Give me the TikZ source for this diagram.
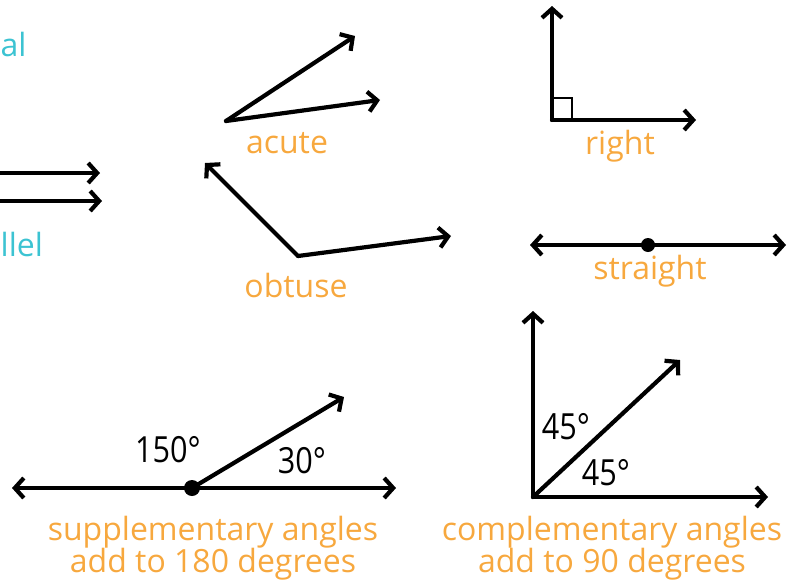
\documentclass[tikz,border=0pt]{standalone}
\usepackage{fontspec}
\setmainfont{Open Sans}
\newfontfamily\namefont{Open Sans}
\newfontfamily\numfont[FakeStretch=0.85]{Open Sans}
\usetikzlibrary{arrows.meta}
\definecolor{nameorange}{HTML}{F7A83E}
\definecolor{namecyan}{HTML}{3CC3D2}

\begin{document}
\begin{tikzpicture}[x=1pt,y=-1pt,
    >={Straight Barb[length=9pt,width=20pt]},
    ray/.style={line width=4.2pt,line cap=round},
    anglename/.style={text=nameorange,font=\namefont\fontsize{32}{32}\selectfont,inner sep=0pt},
    side/.style={text=namecyan,font=\namefont\fontsize{32}{32}\selectfont,inner sep=0pt},
    deg/.style={font=\numfont\fontsize{36}{36}\selectfont,inner sep=0pt}]
    \useasboundingbox (0,0) rectangle (801,584);
    % parallel
    \coordinate (p1) at (-10,173);
    \coordinate (p1e) at (100,173);
    \coordinate (p2) at (-10,201);
    \coordinate (p2e) at (102,201);
    \draw[ray,->] (p1) -- (p1e);
    \draw[ray,->] (p2) -- (p2e);
    \node[side,anchor=base west] (top) at (0.5,56) {al};
    \node[side,anchor=base west] (par) at (0.5,256) {llel};
    % acute
    \coordinate (a) at (226,121);
    \draw[ray,->] (a) -- (355,36);
    \draw[ray,->] (a) -- (380,100);
    \node[anglename] (acute) at (287,143) {acute};
    % right
    \coordinate (r) at (552,120);
    \draw[ray,->] (r) -- (552,6);
    \draw[ray,->] (r) -- (696,120);
    \draw[line width=2pt] (552,98) -- (572,98) -- (572,120);
    \node[anglename] (right) at (620,146) {right};
    % obtuse
    \coordinate (o) at (298,256);
    \draw[ray,->] (o) -- (205,163);
    \draw[ray,->] (o) -- (451,236);
    \node[anglename] (obtuse) at (296,285) {obtuse};
    % straight
    \coordinate (s) at (648,245);
    \draw[ray,<->] (530,245) -- (786,245);
    \fill (s) circle (7pt);
    \node[anglename] (straight) at (650,271) {straight};
    % supplementary
    \coordinate (su) at (192,488);
    \draw[ray,<->] (12,488) -- (396,488);
    \draw[ray,->] (su) -- (344,397);
    \fill (su) circle (8pt);
    \node[deg] (big) at (168,450) {150°};
    \node[deg] (small) at (302,461) {30°};
    \node[anglename,align=center] (supp) at (213,548) {supplementary angles\\add to 180 degrees};
    % complementary
    \coordinate (c) at (533,497);
    \draw[ray,->] (c) -- (533,311);
    \draw[ray,->] (c) -- (768,497);
    \draw[ray,->] (c) -- (680,360);
    \node[deg] (upper) at (566,427) {45°};
    \node[deg] (lower) at (606,473) {45°};
    \node[anglename,align=center] (comp) at (612,548) {complementary angles\\add to 90 degrees};
\end{tikzpicture}
\end{document}
